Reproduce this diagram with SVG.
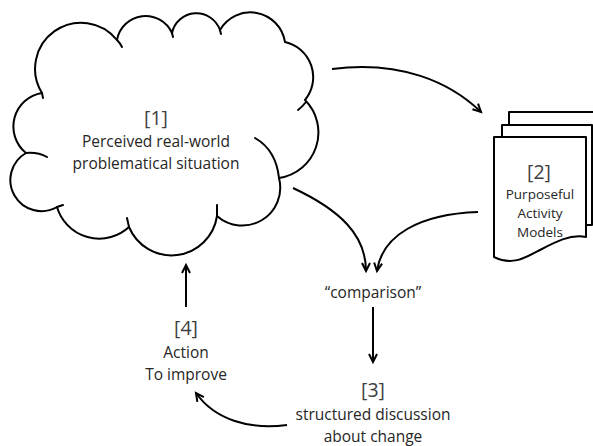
<svg xmlns="http://www.w3.org/2000/svg" width="593" height="446" viewBox="0 0 593 446">
<style>
.o{fill:white;stroke:#000;stroke-width:2;stroke-linejoin:round}
.t{fill:none;stroke:#000;stroke-width:2;stroke-linecap:round}
.c{fill:none;stroke:#000;stroke-width:2}
text{font-family:"Open Sans","DejaVu Sans",sans-serif;fill:#262626;text-anchor:middle}
.n{font-size:19.5px;fill:#404040}
.s{font-size:15.5px}
.d{font-size:13.5px}
</style>
<defs>
<marker id="ah" markerWidth="12" markerHeight="12" refX="9" refY="5" orient="auto" markerUnits="userSpaceOnUse" viewBox="0 0 12 10">
<path d="M1,1 L9,5 L1,9" fill="none" stroke="#000" stroke-width="2" stroke-linejoin="miter"/>
</marker>
</defs>
<g id="node1">
<path class="o" d="M42,93 A46,46 0 0 1 117,40 A29,29 0 0 1 172,33 A25,25 0 0 1 220,30 A35,35 0 0 1 285,42 A36,36 0 0 1 305,100 A46,46 0 0 1 279,178 A38,38 0 0 1 217,216 A46,46 0 0 1 129,227 A44,44 0 0 1 57,207 A31,31 0 0 1 26,153 A34,34 0 0 1 42,93 Z"/>
<path class="t" d="M117,40 Q120,43 122,47"/>
<path class="t" d="M172,33 L173,37"/>
<path class="t" d="M220,30 L221,34"/>
<path class="t" d="M306,102 Q302,107 298,110"/>
<path class="t" d="M255,138 Q276,150 279,178"/>
<path class="t" d="M217,216 L217,205"/>
<path class="t" d="M129,227 L127,218"/>
<path class="t" d="M57,207 L63,205"/>
<path class="t" d="M26,153 Q38,152 47,157"/>
<path class="t" d="M42,93 L43,98"/>
<text class="n" x="156" y="125">[1]</text>
<text class="s" x="156" y="147">Perceived real-world</text>
<text class="s" x="156" y="169">problematical situation</text>
</g>
<g id="node2">
<path class="o" d="M509,112 L600,112 L600,215 L509,215 Z"/>
<path class="o" d="M502,125 L592,125 L592,225 Q570,224 550,232 L502,232 Z"/>
<path class="o" d="M494,137 L586,137 L586,237 C570,234 555,242 540,250 C525,258 512,266 494,257 Z"/>
<text class="n" x="539" y="179">[2]</text>
<text class="d" x="540" y="199">Purposeful</text>
<text class="d" x="540" y="218">Activity</text>
<text class="d" x="540" y="237">Models</text>
</g>
<g id="node-comparison">
<text class="s" x="373" y="298">“comparison”</text>
</g>
<g id="node3">
<text class="n" x="373" y="397">[3]</text>
<text class="s" x="373" y="420">structured discussion</text>
<text class="s" x="373" y="442">about change</text>
</g>
<g id="node4">
<text class="n" x="186" y="335">[4]</text>
<text class="s" x="186" y="358">Action</text>
<text class="s" x="186" y="380">To improve</text>
</g>
<g id="connectors">
<path class="c" marker-end="url(#ah)" d="M332,69 C400,60 450,82 481,112"/>
<path class="c" marker-end="url(#ah)" d="M293,188 C340,210 366,235 366,271"/>
<path class="c" marker-end="url(#ah)" d="M478,212 C420,214 382,235 377,271"/>
<path class="c" marker-end="url(#ah)" d="M373,307 L373,362"/>
<path class="c" marker-end="url(#ah)" d="M287,425 C250,430 215,420 196,393"/>
<path class="c" marker-end="url(#ah)" d="M186,307 L186,265"/>
</g>
</svg>
